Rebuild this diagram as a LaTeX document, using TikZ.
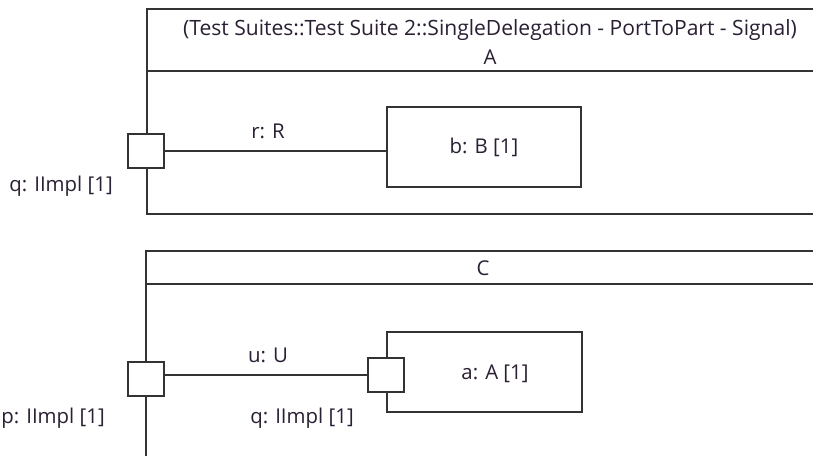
\documentclass[tikz,border=0pt]{standalone}
\usepackage{fontspec}
\setmainfont{Open Sans}
\usetikzlibrary{positioning}
\definecolor{umlline}{HTML}{333333}
\definecolor{umltext}{HTML}{2A1F33}

\begin{document}
\begin{tikzpicture}[x=0.75pt, y=-0.75pt,
    frame/.style={draw=umlline, line width=1.3pt},
    portbox/.style={draw=umlline, fill=white, line width=1.3pt,
      minimum width=27pt, minimum height=26pt, inner sep=0pt},
    partbox/.style={draw=umlline, fill=white, line width=1.3pt,
      minimum width=146pt, minimum height=60pt, inner sep=0pt},
    lbl/.style={text=umltext, font=\fontsize{15.3}{17}\selectfont, inner sep=0pt}]
  \clip (0,0) rectangle (813,456);

  % upper structure A
  \draw[frame] (147,9) rectangle (830,214);
  \draw[frame] (147,71) -- (830,71);
  \node[lbl, font=\fontsize{15.8}{17}\selectfont] (title) at (490,30) {(Test Suites::Test Suite 2::SingleDelegation - PortToPart - Signal)};
  \node[lbl] (nameA) at (490,57) {A};
  \node[portbox] (qport) at (146,151) {};
  \node[partbox, lbl, draw=umlline] (bpart) at (484,147) {b: B [1]};
  \draw[umlline, line width=1.3pt] (qport.east) -- (qport.east -| bpart.west);
  \node[lbl] (rlbl) at (268,131) {r: R};
  \node[lbl, anchor=east] (qlbl) at (113,186) {q: IImpl [1]};

  % lower structure C
  \draw[frame] (146,251) rectangle (830,456.6);
  \draw[frame] (146,284) -- (830,284);
  \node[lbl] (nameC) at (483,268) {C};
  \node[partbox] (apart) at (484.5,372) {};
  \node[lbl] (atext) at (495,374) {a: A [1]};
  \node[portbox] (aport) at (386,375) {};
  \node[portbox] (pport) at (146,379) {};
  \draw[umlline, line width=1.3pt] (pport.east |- aport.west) -- (aport.west);
  \node[lbl] (ulbl) at (268,355) {u: U};
  \node[lbl] (aqlbl) at (302,418) {q: IImpl [1]};
  \node[lbl, anchor=east] (plbl) at (105,418) {p: IImpl [1]};
\end{tikzpicture}
\end{document}
